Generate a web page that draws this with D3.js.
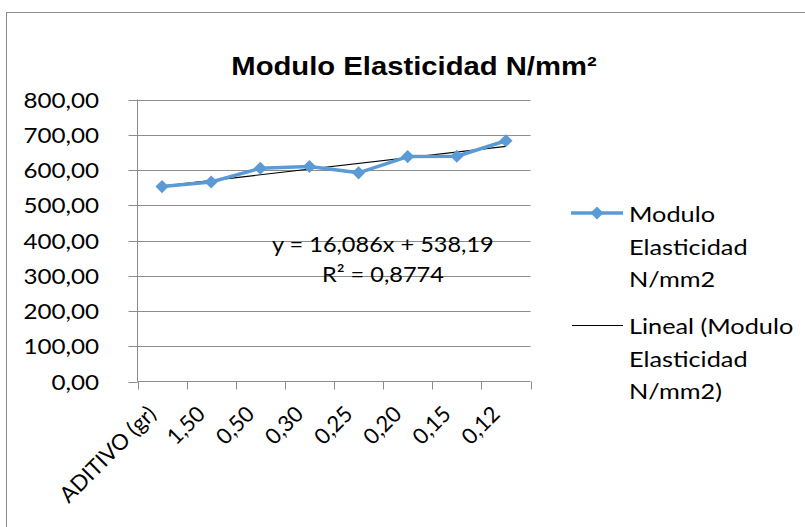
<!DOCTYPE html>
<html>
<head>
<meta charset="utf-8">
<script src="https://cdn.jsdelivr.net/npm/d3@7/dist/d3.min.js"></script>
<style>
  html, body { margin: 0; padding: 0; background: #ffffff; }
  svg { display: block; }
  .lbl { font-family: Lato, "Open Sans", sans-serif; fill: #000; font-size: 22px; }
  .ttl { font-family: "Liberation Sans", Arimo, Arial, sans-serif; font-weight: bold; font-size: 25px; fill: #000; }
</style>
</head>
<body>
<svg id="chart" width="805" height="527"></svg>
<script>
// Modulo de elasticidad por dosis de aditivo
const categories = ["ADITIVO (gr)", "1,50", "0,50", "0,30", "0,25", "0,20", "0,15", "0,12"];
const moduloValues = [553, 566, 605, 610, 592, 638, 639, 683];
const yTicks = [0, 100, 200, 300, 400, 500, 600, 700, 800];
const trendSlope = 16.086;
const trendIntercept = 538.19;
const trendR2 = "0,8774";
const titleText = "Modulo Elasticidad N/mm²";
const legendSeries = ["Modulo", "Elasticidad", "N/mm2"];
const legendTrend = ["Lineal (Modulo", "Elasticidad", "N/mm2)"];

const svg = d3.select("#chart");
const grey = "#8c8c8c";
const blue = "#5b9bd5";

// outer chart frame
svg.append("rect")
  .attr("x", 6.5).attr("y", 12.5)
  .attr("width", 820).attr("height", 540)
  .attr("fill", "#fff").attr("stroke", grey).attr("stroke-width", 1);

const x = d3.scaleBand().domain(categories).range([137.5, 530.5]);
const y = d3.scaleLinear().domain([0, 800]).range([381.5, 99.5]);
const fmt = v => d3.format(".2f")(v).replace(".", ",");
const px = v => Math.round(v) + 0.5;

// horizontal text placed at (tx, ty) with a slight horizontal stretch
function label(parent, tx, ty, str, anchor, cls, sx) {
  return parent.append("text")
    .attr("class", cls || "lbl")
    .attr("text-anchor", anchor || "start")
    .attr("transform", `translate(${tx},${ty}) scale(${sx || 1.1},1)`)
    .text(str);
}

// horizontal gridlines
svg.append("g").selectAll("line")
  .data(yTicks.filter(t => t > 0))
  .join("line")
  .attr("x1", x.range()[0]).attr("x2", x.range()[1])
  .attr("y1", d => px(y(d))).attr("y2", d => px(y(d)))
  .attr("stroke", grey).attr("stroke-width", 1);

// y axis: line, outward ticks, labels
const x0 = x.range()[0];
svg.append("line").attr("x1", x0).attr("x2", x0)
  .attr("y1", y(800)).attr("y2", y(0)).attr("stroke", grey);
svg.append("g").selectAll("line").data(yTicks).join("line")
  .attr("x1", x0 - 9).attr("x2", x0)
  .attr("y1", d => px(y(d))).attr("y2", d => px(y(d)))
  .attr("stroke", grey);
const yl = svg.append("g");
yTicks.forEach(t => label(yl, 99, y(t) + 8, fmt(t), "end"));

// x axis line and tick marks at band edges
svg.append("line")
  .attr("x1", x0).attr("x2", x.range()[1])
  .attr("y1", y(0)).attr("y2", y(0))
  .attr("stroke", grey);
const edges = categories.map(c => x(c)).concat([x.range()[1]]);
svg.append("g").selectAll("line")
  .data(edges)
  .join("line")
  .attr("x1", d => px(d)).attr("x2", d => px(d))
  .attr("y1", y(0)).attr("y2", y(0) + 8)
  .attr("stroke", grey);

const cx = d => x(d) + x.bandwidth() / 2;

// rotated category labels
svg.append("g").selectAll("text")
  .data(categories)
  .join("text")
  .attr("class", "lbl")
  .attr("font-size", 23)
  .attr("text-anchor", "end")
  .attr("transform", d => `translate(${cx(d) - 10},410) rotate(-45)`)
  .attr("dy", "0.35em")
  .text(d => d);

// linear trendline
const first = 1, last = categories.length;
svg.append("line")
  .attr("x1", cx(categories[0])).attr("y1", y(trendSlope * first + trendIntercept))
  .attr("x2", cx(categories[last - 1])).attr("y2", y(trendSlope * last + trendIntercept))
  .attr("stroke", "#000").attr("stroke-width", 1.2);

// data series line with diamond markers
const pts = categories.map((c, i) => [cx(c), y(moduloValues[i])]);
svg.append("path")
  .attr("d", d3.line()(pts))
  .attr("fill", "none").attr("stroke", blue).attr("stroke-width", 3.5)
  .attr("stroke-linejoin", "round");
const diamond = d3.symbol().type(d3.symbolDiamond2).size(110);
svg.append("g").selectAll("path")
  .data(pts)
  .join("path")
  .attr("transform", d => `translate(${d[0]},${d[1]})`)
  .attr("d", diamond)
  .attr("fill", blue);

// trendline equation
label(svg, 272, 252, `y = ${String(trendSlope).replace(".", ",")}x + ${String(trendIntercept).replace(".", ",")}`, "start", "lbl", 1.07);
label(svg, 322, 282, `R² = ${trendR2}`, "start", "lbl", 1.07);

// title
label(svg, 414, 75, titleText, "middle", "ttl", 1.17);

// legend
const lg = svg.append("g");
lg.append("line").attr("x1", 571).attr("x2", 623).attr("y1", 213).attr("y2", 213)
  .attr("stroke", blue).attr("stroke-width", 3.5);
lg.append("path").attr("transform", "translate(597,213)").attr("d", diamond).attr("fill", blue);
legendSeries.forEach((s, i) => label(lg, 629, 222 + i * 32.5, s, "start", "lbl", 1.15));
lg.append("line").attr("x1", 572).attr("x2", 623).attr("y1", 325.5).attr("y2", 325.5)
  .attr("stroke", "#000").attr("stroke-width", 1.2);
legendTrend.forEach((s, i) => label(lg, 629, 334 + i * 32.5, s, "start", "lbl", 1.15));
</script>
</body>
</html>
